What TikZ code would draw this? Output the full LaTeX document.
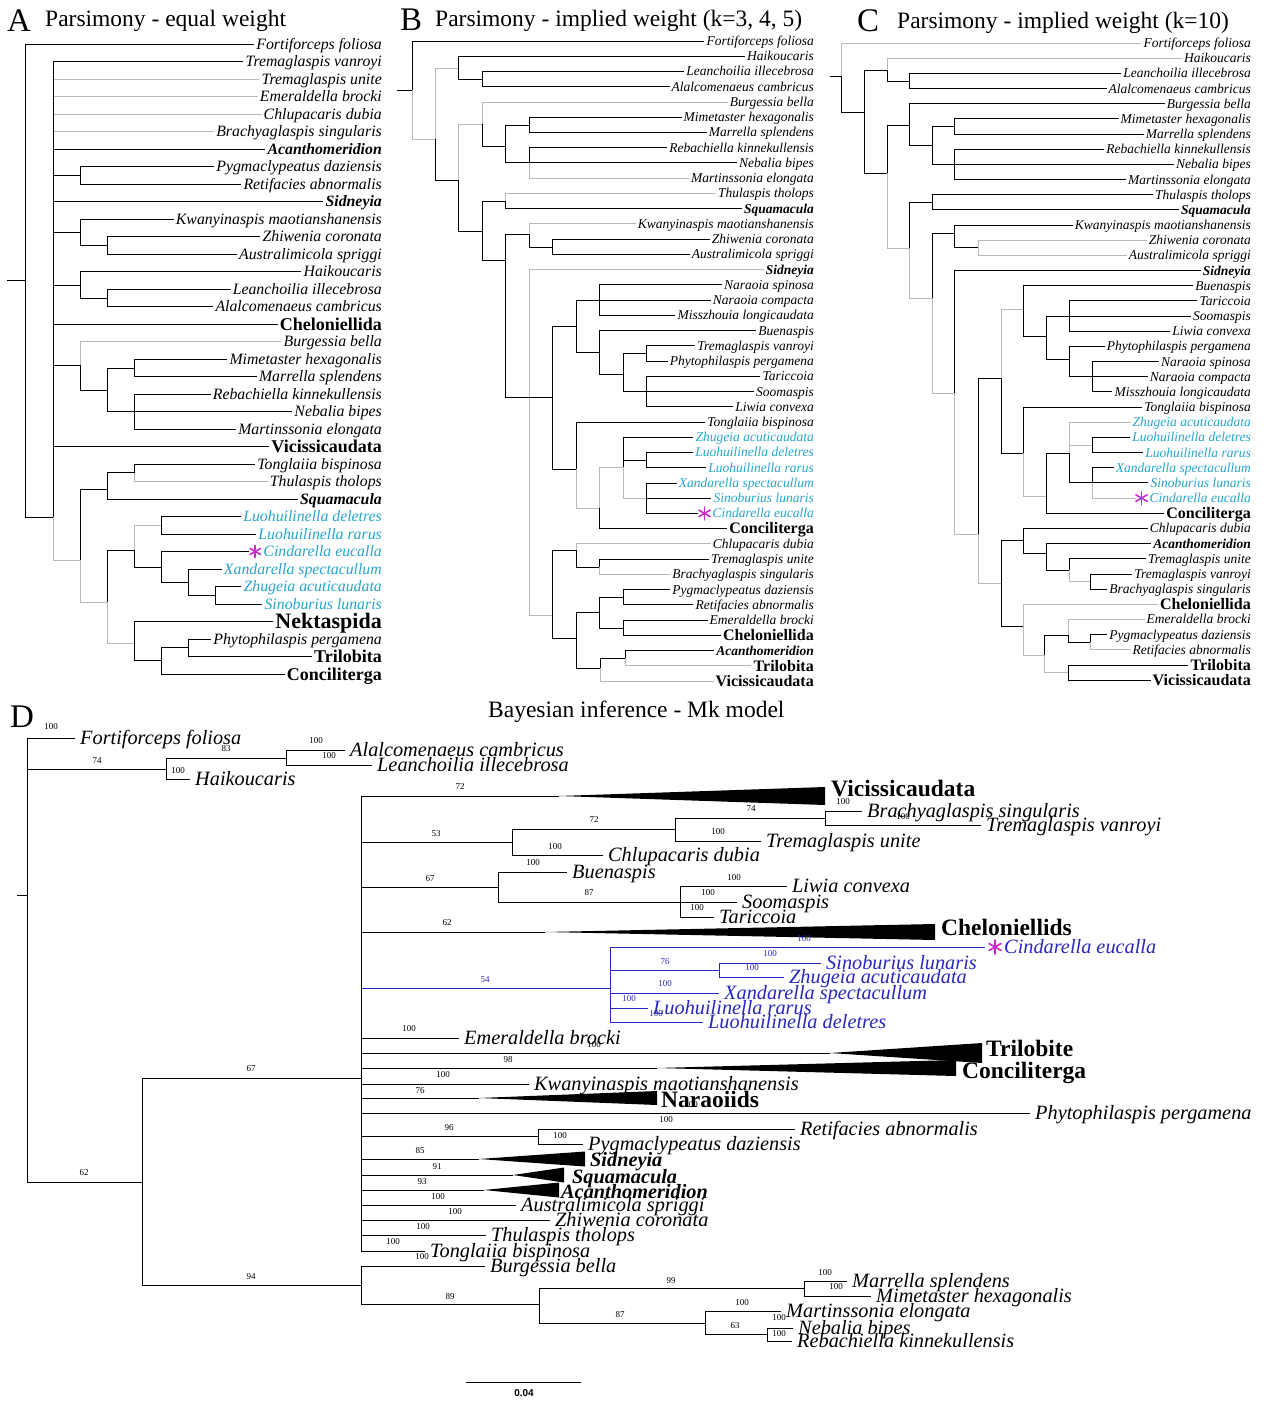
\documentclass[tikz,border=0pt]{standalone}
\usepackage{fontspec}
\setmainfont{Liberation Serif}
\setsansfont{Liberation Sans}
\usepackage{xcolor}
\definecolor{xancyan}{RGB}{40,165,205}
\definecolor{dblue}{RGB}{40,40,190}
\definecolor{astmag}{RGB}{205,40,205}

\begin{document}
\begin{tikzpicture}[
  x=1pt, y=-1pt,
  br/.style={line width=0.9pt, black},
  brg/.style={line width=0.9pt, gray!55},
  brb/.style={line width=0.9pt, dblue},
  la/.style={anchor=east, inner xsep=2pt, inner ysep=0pt, text height=12.5pt, text depth=2pt, font=\fontsize{15.8}{17}\selectfont\itshape},
  lai/.style={la, font=\fontsize{15.8}{17}\selectfont\bfseries\itshape},
  lac/.style={la, text=xancyan},
  lag/.style={la, text height=14pt, font=\fontsize{18}{20}\selectfont\bfseries},
  lan/.style={la, text height=16.6pt, font=\fontsize{22}{24}\selectfont\bfseries},
  lb/.style={anchor=east, inner xsep=2pt, inner ysep=0pt, text height=11pt, text depth=2pt, font=\fontsize{13.5}{15}\selectfont\itshape},
  lbi/.style={lb, font=\fontsize{13.5}{15}\selectfont\bfseries\itshape},
  lbc/.style={lb, text=xancyan},
  lbg/.style={lb, text height=12.6pt, font=\fontsize{16}{18}\selectfont\bfseries},
  ld/.style={anchor=west, inner xsep=5pt, inner ysep=0pt, text height=15.4pt, text depth=2pt, font=\fontsize{20.3}{22}\selectfont\itshape},
  ldc/.style={ld, text=dblue},
  lgd/.style={anchor=west, inner sep=0pt, text height=15.6pt, text depth=0pt, font=\fontsize{23.5}{25}\selectfont\bfseries},
  lgi/.style={lgd, text height=13.4pt, font=\fontsize{20.3}{22}\selectfont\bfseries\itshape},
  sup/.style={inner sep=0pt, font=\fontsize{9}{9}\selectfont},
  ttl/.style={anchor=base west, inner sep=0pt, font=\fontsize{23.5}{25}\selectfont},
  pan/.style={anchor=base west, inner sep=0pt, font=\fontsize{33}{35}\selectfont},
  ast/.style={line width=1.6pt, astmag, line cap=round}
]
\fill[white] (0,0) rectangle (1268,1402);
\useasboundingbox (0,0) rectangle (1268,1402);

% titles
\node[pan] (pA) at (7,32) {A};
\node[ttl] (hA) at (45,27) {Parsimony - equal weight};
\node[pan] (pB) at (400,31) {B};
\node[ttl] (hB) at (435,27) {Parsimony - implied weight (k=3, 4, 5)};
\node[pan] (pC) at (857,32) {C};
\node[ttl] (hC) at (897,29) {Parsimony - implied weight (k=10)};
\node[pan] (pD) at (10,727) {D};
\node[ttl] (hD) at (488,717) {Bayesian inference - Mk model};

% ---------- A: equal weight ----------
\foreach \i/\t/\s in {0/Fortiforceps foliosa/la, 1/Tremaglaspis vanroyi/la, 2/Tremaglaspis unite/la,
  3/Emeraldella brocki/la, 4/Chlupacaris dubia/la, 5/Brachyaglaspis singularis/la, 6/Acanthomeridion/lai,
  7/Pygmaclypeatus daziensis/la, 8/Retifacies abnormalis/la, 9/Sidneyia/lai,
  10/Kwanyinaspis maotianshanensis/la, 11/Zhiwenia coronata/la, 12/Australimicola spriggi/la,
  13/Haikoucaris/la, 14/Leanchoilia illecebrosa/la, 15/Alalcomenaeus cambricus/la, 16/Cheloniellida/lag,
  17/Burgessia bella/la, 18/Mimetaster hexagonalis/la, 19/Marrella splendens/la,
  20/Rebachiella kinnekullensis/la, 21/Nebalia bipes/la, 22/Martinssonia elongata/la,
  23/Vicissicaudata/lag, 24/Tonglaiia bispinosa/la, 25/Thulaspis tholops/la, 26/Squamacula/lai,
  27/Luohuilinella deletres/lac, 28/Luohuilinella rarus/lac, 30/Xandarella spectacullum/lac,
  31/Zhugeia acuticaudata/lac, 32/Sinoburius lunaris/lac, 33/Nektaspida/lan,
  34/Phytophilaspis pergamena/la, 35/Trilobita/lag, 36/Conciliterga/lag}
  \node[\s] (a\i) at (384,44+17.5*\i) {\t};
\node[lac] (a29) at (384,551.5) {\hspace{12pt}Cindarella eucalla};

\coordinate (aS) at (7,280);
\coordinate (aR) at (25,280);
\coordinate (aN1) at (53,517);
\coordinate (aPR) at (80,175);
\coordinate (aKZ) at (80,232);
\coordinate (aZA) at (107,245);
\coordinate (aHL) at (80,285);
\coordinate (aLA) at (107,298);
\coordinate (aBM) at (80,365);
\coordinate (aMR) at (107,390);
\coordinate (aMM) at (134,368);
\coordinate (aRN) at (134,411.5);
\coordinate (aBig) at (80,560);
\coordinate (aTT) at (107,489);
\coordinate (aTo) at (134,472.75);
\coordinate (aXC) at (107,602);
\coordinate (aLL) at (134,550);
\coordinate (aLu) at (161,525);
\coordinate (aCX) at (161,567);
\coordinate (aXZ) at (188,582);
\coordinate (aZS) at (215,595);
\coordinate (aNT) at (134,643);
\coordinate (aPTC) at (161,660);
\coordinate (aPT) at (188,647.75);

\foreach \p/\c in {aN1/a2, aN1/a3, aN1/a4, aN1/a5, aBM/a17, aTo/a25, aN1/aBig, aBig/aXC, aXC/aNT, aLL/aLu}
  \draw[brg] (\p) |- (\c);
\draw[br] (aS) -- (aR);
\foreach \p/\c in {aR/a0, aR/aN1, aN1/a1, aN1/a6, aN1/aPR, aN1/a9, aN1/aKZ, aN1/aHL, aN1/a16,
  aN1/aBM, aN1/a23, aPR/a7, aPR/a8, aKZ/a10, aKZ/aZA, aZA/a11, aZA/a12, aHL/a13, aHL/aLA,
  aLA/a14, aLA/a15, aBM/aMR, aMR/aMM, aMR/aRN, aMM/a18, aMM/a19, aRN/a20, aRN/a21, aRN/a22,
  aBig/aTT, aTT/aTo, aTT/a26, aTo/a24, aXC/aLL, aLL/aCX, aLu/a27, aLu/a28, aCX/a29,
  aCX/aXZ, aXZ/a30, aXZ/aZS, aZS/a31, aZS/a32, aNT/a33, aNT/aPTC, aPTC/aPT, aPTC/a36,
  aPT/a34, aPT/a35}
  \draw[br] (\p) |- (\c);

% ---------- B: implied weight k=3,4,5 ----------
\foreach \i/\t/\s in {0/Fortiforceps foliosa/lb, 1/Haikoucaris/lb, 2/Leanchoilia illecebrosa/lb,
  3/Alalcomenaeus cambricus/lb, 4/Burgessia bella/lb, 5/Mimetaster hexagonalis/lb,
  6/Marrella splendens/lb, 7/Rebachiella kinnekullensis/lb, 8/Nebalia bipes/lb,
  9/Martinssonia elongata/lb, 10/Thulaspis tholops/lb, 11/Squamacula/lbi,
  12/Kwanyinaspis maotianshanensis/lb, 13/Zhiwenia coronata/lb, 14/Australimicola spriggi/lb,
  15/Sidneyia/lbi, 16/Naraoia spinosa/lb, 17/Naraoia compacta/lb, 18/Misszhouia longicaudata/lb,
  19/Buenaspis/lb, 20/Tremaglaspis vanroyi/lb, 21/Phytophilaspis pergamena/lb, 22/Tariccoia/lb,
  23/Soomaspis/lb, 24/Liwia convexa/lb, 25/Tonglaiia bispinosa/lb, 26/Zhugeia acuticaudata/lbc,
  27/Luohuilinella deletres/lbc, 28/Luohuilinella rarus/lbc, 29/Xandarella spectacullum/lbc,
  30/Sinoburius lunaris/lbc, 32/Conciliterga/lbg, 33/Chlupacaris dubia/lb,
  34/Tremaglaspis unite/lb, 35/Brachyaglaspis singularis/lb, 36/Pygmaclypeatus daziensis/lb,
  37/Retifacies abnormalis/lb, 38/Emeraldella brocki/lb, 39/Cheloniellida/lbg,
  40/Acanthomeridion/lbi, 41/Trilobita/lbg, 42/Vicissicaudata/lbg}
  \node[\s] (b\i) at (816,41+15.24*\i) {\t};
\node[lbc] (b31) at (816,513.4) {\hspace{12pt}Cindarella eucalla};

\coordinate (bS) at (397,90);
\coordinate (bR) at (412,90);
\coordinate (bN1) at (435,139);
\coordinate (bHL) at (458,68);
\coordinate (bLA) at (482,79);
\coordinate (bN2) at (458,180);
\coordinate (bBM) at (482,124);
\coordinate (bMR) at (505,146);
\coordinate (bMM) at (529,125);
\coordinate (bRN) at (529,162.9);
\coordinate (bN3) at (482,231);
\coordinate (bTS) at (505,201);
\coordinate (bN4) at (505,260);
\coordinate (bKZ) at (529,234);
\coordinate (bZA) at (552,247);
\coordinate (bN5) at (529,397);
\coordinate (bN6) at (552,397);
\coordinate (bNB) at (576,326);
\coordinate (bNar) at (599,300.1);
\coordinate (bBu) at (599,352);
\coordinate (bTP) at (623,374);
\coordinate (bTV) at (646,353.4);
\coordinate (bTS2) at (646,391.5);
\coordinate (bTX) at (576,469);
\coordinate (bXC) at (599,508);
\coordinate (bXan) at (623,467);
\coordinate (bLu) at (646,460);
\coordinate (bSX) at (646,498.2);
\coordinate (bN7) at (552,615);
\coordinate (bCTB) at (576,550);
\coordinate (bUB) at (599,567);
\coordinate (bPE) at (576,638);
\coordinate (bPRE) at (599,612);
\coordinate (bPR) at (623,597);
\coordinate (bEC) at (623,628);
\coordinate (bAT) at (600,668);
\coordinate (bAT2) at (625,658);

\foreach \p/\c in {bR/bN1, bN1/bHL, bN2/bBM, bBM/b4, bRN/b9, bTS/b10, bKZ/b12, bN5/b15,
  bN5/bN7, bTX/bXC, bXan/bSX, bCTB/b33, bUB/b35, bAT2/b41, bAT/b42, bXC/bXan}
  \draw[brg] (\p) |- (\c);
\draw[br] (bS) -- (bR);
\foreach \p/\c in {bR/b0, bN1/bN2, bHL/b1, bHL/bLA, bLA/b2, bLA/b3, bN2/bN3, bBM/bMR,
  bMR/bMM, bMR/bRN, bMM/b5, bMM/b6, bRN/b7, bRN/b8, bN3/bTS, bN3/bN4, bTS/b11, bN4/bKZ,
  bN4/bN5, bKZ/bZA, bZA/b13, bZA/b14, bN5/bN6, bN6/bNB, bN6/bTX, bNB/bNar, bNB/bBu,
  bNar/b16, bNar/b17, bNar/b18, bBu/b19, bBu/bTP, bTP/bTV, bTP/bTS2, bTV/b20, bTV/b21,
  bTS2/b22, bTS2/b23, bTS2/b24, bTX/b25, bXC/b32, bXan/b26, bXan/bLu, bLu/b27, bLu/b28,
  bSX/b29, bSX/b30, bSX/b31, bN7/bCTB, bN7/bPE, bCTB/bUB, bUB/b34, bPE/bPRE, bPE/bAT,
  bPRE/bPR, bPRE/bEC, bPR/b36, bPR/b37, bEC/b38, bEC/b39, bAT/bAT2, bAT2/b40}
  \draw[br] (\p) |- (\c);

% ---------- C: implied weight k=10 ----------
\foreach \i/\t/\s in {0/Fortiforceps foliosa/lb, 1/Haikoucaris/lb, 2/Leanchoilia illecebrosa/lb,
  3/Alalcomenaeus cambricus/lb, 4/Burgessia bella/lb, 5/Mimetaster hexagonalis/lb,
  6/Marrella splendens/lb, 7/Rebachiella kinnekullensis/lb, 8/Nebalia bipes/lb,
  9/Martinssonia elongata/lb, 10/Thulaspis tholops/lb, 11/Squamacula/lbi,
  12/Kwanyinaspis maotianshanensis/lb, 13/Zhiwenia coronata/lb, 14/Australimicola spriggi/lb,
  15/Sidneyia/lbi, 16/Buenaspis/lb, 17/Tariccoia/lb, 18/Soomaspis/lb, 19/Liwia convexa/lb,
  20/Phytophilaspis pergamena/lb, 21/Naraoia spinosa/lb, 22/Naraoia compacta/lb,
  23/Misszhouia longicaudata/lb, 24/Tonglaiia bispinosa/lb, 25/Zhugeia acuticaudata/lbc,
  26/Luohuilinella deletres/lbc, 27/Luohuilinella rarus/lbc, 28/Xandarella spectacullum/lbc,
  29/Sinoburius lunaris/lbc, 31/Conciliterga/lbg, 32/Chlupacaris dubia/lb,
  33/Acanthomeridion/lbi, 34/Tremaglaspis unite/lb, 35/Tremaglaspis vanroyi/lb,
  36/Brachyaglaspis singularis/lb, 37/Cheloniellida/lbg, 38/Emeraldella brocki/lb,
  39/Pygmaclypeatus daziensis/lb, 40/Retifacies abnormalis/lb, 41/Trilobita/lbg,
  42/Vicissicaudata/lbg}
  \node[\s] (c\i) at (1253,43+15.17*\i) {\t};
\node[lbc] (c30) at (1253,498.1) {\hspace{12pt}Cindarella eucalla};

\coordinate (cS) at (830,76);
\coordinate (cR) at (841,76);
\coordinate (cN1) at (864,112);
\coordinate (cHL) at (887,70);
\coordinate (cLA) at (909,81);
\coordinate (cN2) at (887,173);
\coordinate (cBM) at (909,125);
\coordinate (cMR) at (932,145);
\coordinate (cMM) at (954,126.5);
\coordinate (cRN) at (954,164.4);
\coordinate (cN3) at (909,248);
\coordinate (cTS) at (932,202);
\coordinate (cN4) at (932,298);
\coordinate (cKZ) at (954,233);
\coordinate (cZA) at (978,247.8);
\coordinate (cN5) at (954,393);
\coordinate (cN6) at (978,534);
\coordinate (cN7) at (1001,378);
\coordinate (cBu) at (1023,309);
\coordinate (cTN) at (1046,336);
\coordinate (cTSL) at (1069,316.1);
\coordinate (cPN) at (1069,359);
\coordinate (cNar) at (1092,376.7);
\coordinate (cTX) at (1023,453);
\coordinate (cXC) at (1046,496);
\coordinate (cXan) at (1069,453);
\coordinate (cLu) at (1092,445);
\coordinate (cSX) at (1092,482.9);
\coordinate (cN8) at (1001,583);
\coordinate (cCA) at (1023,540);
\coordinate (cAT) at (1046,553);
\coordinate (cTT) at (1069,570);
\coordinate (cVB) at (1090,581.5);
\coordinate (cCE) at (1023,626);
\coordinate (cEP) at (1044,655);
\coordinate (cEPR) at (1068,635);
\coordinate (cPR) at (1090,642.2);
\coordinate (cTV) at (1068,672.6);

\foreach \p/\c in {cR/c0, cHL/c1, cN2/cN3, cN3/cN4, cN4/cN5, cZA/c13, cZA/c14, cN7/cBu,
  cTX/cXC, cXan/c25, cXan/cLu, cSX/c30, cN6/cN8, cTT/cVB, cCE/c37, cCE/cEP, cEPR/c38,
  cPR/c40, cEP/cTV, cN5/cN6}
  \draw[brg] (\p) |- (\c);
\draw[br] (cS) -- (cR);
\foreach \p/\c in {cR/cN1, cN1/cHL, cN1/cN2, cHL/cLA, cLA/c2, cLA/c3, cN2/cBM, cBM/c4,
  cBM/cMR, cMR/cMM, cMR/cRN, cMM/c5, cMM/c6, cRN/c7, cRN/c8, cRN/c9, cN3/cTS, cTS/c10,
  cTS/c11, cN4/cKZ, cKZ/c12, cKZ/cZA, cN5/c15, cN6/cN7, cN7/cTX, cBu/c16, cBu/cTN,
  cTN/cTSL, cTN/cPN, cTSL/c17, cTSL/c18, cTSL/c19, cPN/c20, cPN/cNar, cNar/c21, cNar/c22,
  cNar/c23, cTX/c24, cXC/cXan, cXC/c31, cXan/cSX, cLu/c26, cLu/c27, cSX/c28, cSX/c29,
  cN8/cCA, cN8/cCE, cCA/c32, cCA/cAT, cAT/c33, cAT/cTT, cTT/c34, cVB/c35, cVB/c36,
  cEP/cEPR, cEPR/cPR, cPR/c39, cTV/c41, cTV/c42}
  \draw[br] (\p) |- (\c);

% magenta marks on Cindarella eucalla
\coordinate (astA) at ([xshift=6pt]a29.west);
\coordinate (astB) at ([xshift=6pt]b31.west);
\coordinate (astC) at ([xshift=6pt]c30.west);

% ---------- D: Bayesian inference ----------
\foreach \n/\x/\y/\t in {dFo/75/738/Fortiforceps foliosa, dAl/345/750/Alalcomenaeus cambricus,
  dLe/372/765/Leanchoilia illecebrosa, dHa/190/779/Haikoucaris,
  dBr/862/811/Brachyaglaspis singularis, dTv/981/825/Tremaglaspis vanroyi,
  dTu/761/841/Tremaglaspis unite, dCh/603/855/Chlupacaris dubia, dBu/567/872/Buenaspis,
  dLi/787/886/Liwia convexa, dSo/737/902/Soomaspis, dTa/714/917/Tariccoia,
  dEm/459/1038/Emeraldella brocki, dKw/529/1084/Kwanyinaspis maotianshanensis,
  dPh/1030/1113/Phytophilaspis pergamena, dRe/795/1129/Retifacies abnormalis,
  dPy/583/1144/Pygmaclypeatus daziensis, dAu/516/1205/Australimicola spriggi,
  dZw/550/1220/Zhiwenia coronata, dTh/486/1235/Thulaspis tholops,
  dTo/425/1251/Tonglaiia bispinosa, dBg/485/1266/Burgessia bella,
  dMa/847/1281/Marrella splendens, dMi/871/1296/Mimetaster hexagonalis,
  dMt/781/1311/Martinssonia elongata, dNe/793/1328/Nebalia bipes,
  dRb/792/1341/Rebachiella kinnekullensis}
  \node[ld] (\n) at (\x,\y) {\t};
\foreach \n/\x/\y/\t in {dSi/821/963/Sinoburius lunaris, dZh/784/977/Zhugeia acuticaudata,
  dXa/719/993/Xandarella spectacullum, dLr/648/1008/Luohuilinella rarus,
  dLd/703/1022/Luohuilinella deletres}
  \node[ldc] (\n) at (\x,\y) {\t};
\node[ldc] (dCi) at (985,947) {\hspace{14pt}Cindarella eucalla};
\coordinate (astD) at ([xshift=10pt]dCi.west);

% collapsed clades
\foreach \n/\ax/\y/\rx/\h in {tVic/559/796/825/9, tChe/545/932/935/8, tTri/830/1053/982/10,
  tCon/657/1068/956/8, tNar/479/1098/657/7, tSid/479/1159/585/7.5, tSqu/513/1175/564/7.5,
  tAca/484/1190/559/7.5}
  {\coordinate (\n) at (\ax,\y);
   \fill (\n) -- (\rx,\y-\h) -- (\rx,\y+\h) -- cycle;}
\node[lgd] (gVic) at (831,789) {Vicissicaudata};
\node[lgd] (gChe) at (941,928) {Cheloniellids};
\node[lgd] (gTri) at (986,1049) {Trilobite};
\node[lgd] (gCon) at (962,1071) {Conciliterga};
\node[lgd] (gNar) at (661,1100) {Naraoiids};
\node[lgi] (gSid) at (590,1160) {Sidneyia};
\node[lgi] (gSqu) at (572,1177) {Squamacula};
\node[lgi] (gAca) at (561,1192) {Acanthomeridion};

\coordinate (dS) at (17,895);
\coordinate (dR) at (27,895);
\coordinate (dHL) at (166,769);
\coordinate (dAL) at (286,758);
\coordinate (dM) at (142,1182);
\coordinate (dP) at (361,1078);
\coordinate (dQ) at (361,1285);
\coordinate (d53) at (512,842);
\coordinate (d72) at (675,829);
\coordinate (d74) at (825,818);
\coordinate (d67) at (498,887);
\coordinate (d87) at (680,902);
\coordinate (d54) at (610,988);
\coordinate (d76) at (719,970);
\coordinate (d96) at (538,1136);
\coordinate (d89) at (539,1304);
\coordinate (d99) at (804,1288);
\coordinate (d87b) at (705,1323);
\coordinate (d63) at (767,1334);

\foreach \p/\c in {dP/d54, d54/dCi, d54/d76, d54/dXa, d54/dLr, d54/dLd, d76/dSi, d76/dZh}
  \draw[brb] (\p) |- (\c);
\draw[br] (dS) -- (dR);
\foreach \p/\c in {dR/dFo, dR/dHL, dR/dM, dHL/dAL, dHL/dHa, dAL/dAl, dAL/dLe, dM/dP, dM/dQ,
  dP/tVic, dP/d53, dP/d67, dP/tChe, dP/dEm, dP/tTri, dP/tCon, dP/dKw, dP/tNar, dP/dPh,
  dP/d96, dP/tSid, dP/tSqu, dP/tAca, dP/dAu, dP/dZw, dP/dTh, dP/dTo,
  d53/d72, d53/dCh, d72/d74, d72/dTu, d74/dBr, d74/dTv, d67/dBu, d67/d87, d87/dLi,
  d87/dSo, d87/dTa, d96/dRe, d96/dPy, dQ/dBg, dQ/d89, d89/d99, d89/d87b, d99/dMa,
  d99/dMi, d87b/dMt, d87b/d63, d63/dNe, d63/dRb}
  \draw[br] (\p) |- (\c);

% asterisks
\foreach \m/\r in {astA/6, astB/6.5, astC/6.5, astD/7}
  \foreach \a in {90,30,150}
    \draw[ast] ([shift={(\a:\r pt)}]\m) -- ([shift={(\a+180:\r pt)}]\m);

% support values
\foreach \x/\y/\t [count=\k] in {51/727/100, 97/761/74, 226/749/83, 316/741/100, 329/756/100,
  178/771/100, 84/1173/62, 251/1069/67, 251/1277/94, 460/787/72, 436/834/53, 594/820/72,
  751/809/74, 843/802/100, 903/817/100, 718/832/100, 555/847/100, 430/879/67, 533/863/100,
  589/893/87, 734/878/100, 708/893/100, 697/908/100, 447/923/62, 409/1029/100, 594/1045/100,
  508/1060/98, 443/1075/100, 420/1091/76, 691/1105/100, 449/1128/96, 666/1120/100,
  560/1136/100, 420/1151/85, 437/1167/91, 422/1182/93, 438/1197/100, 455/1212/100,
  423/1227/100, 393/1242/100, 422/1257/100, 450/1297/89, 671/1281/99, 825/1273/100,
  836/1287/100, 620/1315/87, 742/1303/100, 735/1326/63, 779/1318/100, 779/1334/100}
  \node[sup] (s\k) at (\x,\y) {\t};
\foreach \x/\y/\t [count=\k] in {485/980/54, 804/939/100, 665/962/76, 770/954/100,
  752/968/100, 665/984/100, 629/999/100, 656/1014/100}
  \node[sup, text=dblue] (sb\k) at (\x,\y) {\t};

% scale bar
\coordinate (sbL) at (466,1382);
\coordinate (sbR) at (581,1382);
\draw[br] (sbL) -- (sbR);
\node[inner sep=0pt, font=\fontsize{10}{10}\selectfont\sffamily\bfseries] (sbT) at (524,1393) {0.04};
\end{tikzpicture}
\end{document}
